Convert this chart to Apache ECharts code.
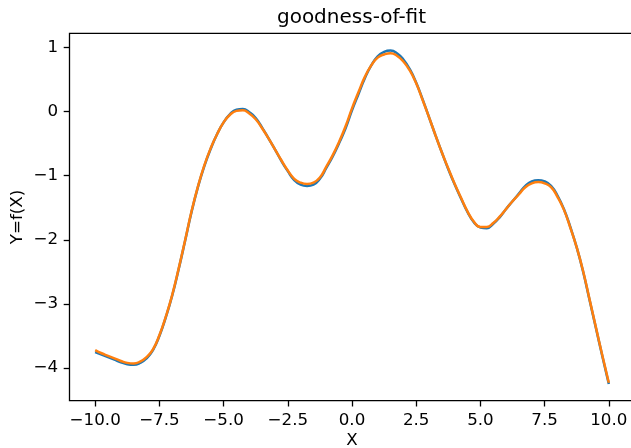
<!DOCTYPE html>
<html>
<head>
<meta charset="utf-8">
<script src="https://cdn.jsdelivr.net/npm/echarts@6/dist/echarts.min.js"></script>
<style>
  html, body { margin: 0; padding: 0; background: #fff; }
  #chart { width: 631px; height: 448px; }
</style>
</head>
<body>
<div id="chart"></div>
<script>
// Sample positions along X (step 0.25)
const xs = [-10, -9.75, -9.5, -9.25, -9, -8.75, -8.5, -8.25, -8, -7.75, -7.5, -7.25, -7, -6.75, -6.5, -6.25,
            -6, -5.75, -5.5, -5.25, -5, -4.75, -4.5, -4.25, -4, -3.75, -3.5, -3.25, -3, -2.75, -2.5, -2.25,
            -2, -1.75, -1.5, -1.25, -1, -0.75, -0.5, -0.25, 0, 0.25, 0.5, 0.75, 1, 1.25, 1.5, 1.75,
            2, 2.25, 2.5, 2.75, 3, 3.25, 3.5, 3.75, 4, 4.25, 4.5, 4.75, 5, 5.25, 5.5, 5.75,
            6, 6.25, 6.5, 6.75, 7, 7.25, 7.5, 7.75, 8, 8.25, 8.5, 8.75, 9, 9.25, 9.5, 9.75, 10];

// Observed function values f(X)
const trueY = [-3.75, -3.79, -3.83, -3.87, -3.91, -3.94, -3.95, -3.92, -3.85, -3.72, -3.50, -3.21, -2.87, -2.46, -2.02, -1.57,
               -1.18, -0.85, -0.58, -0.35, -0.17, -0.04, 0.03, 0.04, -0.01, -0.10, -0.25, -0.42, -0.59, -0.77, -0.93, -1.07,
               -1.14, -1.16, -1.14, -1.05, -0.88, -0.70, -0.49, -0.26, 0.02, 0.27, 0.52, 0.72, 0.86, 0.93, 0.95, 0.91,
               0.81, 0.66, 0.45, 0.19, -0.09, -0.37, -0.64, -0.90, -1.14, -1.36, -1.57, -1.73, -1.81, -1.82, -1.75, -1.65,
               -1.52, -1.40, -1.28, -1.16, -1.09, -1.07, -1.09, -1.16, -1.31, -1.52, -1.80, -2.12, -2.50, -2.94, -3.38, -3.82, -4.25];

// Fitted model values
const fitY = [-3.72, -3.77, -3.81, -3.85, -3.89, -3.92, -3.93, -3.90, -3.83, -3.71, -3.49, -3.20, -2.86, -2.45, -2.01, -1.56,
              -1.17, -0.84, -0.57, -0.35, -0.17, -0.05, 0.01, 0.02, -0.03, -0.12, -0.26, -0.42, -0.59, -0.76, -0.92, -1.05,
              -1.11, -1.13, -1.11, -1.03, -0.86, -0.68, -0.47, -0.23, 0.05, 0.30, 0.54, 0.72, 0.84, 0.89, 0.91, 0.87,
              0.78, 0.64, 0.44, 0.18, -0.09, -0.37, -0.64, -0.89, -1.13, -1.35, -1.56, -1.72, -1.80, -1.80, -1.74, -1.64,
              -1.52, -1.40, -1.29, -1.18, -1.12, -1.10, -1.12, -1.18, -1.33, -1.53, -1.81, -2.12, -2.49, -2.93, -3.37, -3.81, -4.23];

// Tick positions and their labels
const xTicks = [-10, -7.5, -5, -2.5, 0, 2.5, 5, 7.5, 10];
const xTickLabels = ['\u221210.0', '\u22127.5', '\u22125.0', '\u22122.5', '0.0', '2.5', '5.0', '7.5', '10.0'];
const yTicks = [-4, -3, -2, -1, 0, 1];
const yTickLabels = ['\u22124', '\u22123', '\u22122', '\u22121', '0', '1'];

const FONT = 'DejaVu Sans';
const pair = (ys) => xs.map((x, i) => [x, ys[i]]);

const chart = echarts.init(document.getElementById('chart'), null, { renderer: 'canvas' });

chart.setOption({
  animation: false,
  backgroundColor: '#ffffff',
  title: {
    text: 'goodness-of-fit',
    left: 351.5,
    top: 8,
    padding: 0,
    textAlign: 'center',
    textStyle: { fontFamily: FONT, fontSize: 20, fontWeight: 'normal', color: '#000' }
  },
  grid: {
    left: 69.5, right: -3.5, top: 33.3, bottom: 47.3,
    outerBoundsMode: 'none',
    containLabel: false,
    show: true,
    borderColor: '#000',
    borderWidth: 1.3,
    backgroundColor: 'transparent'
  },
  xAxis: {
    type: 'value',
    min: -11, max: 11,
    name: 'X',
    nameLocation: 'middle',
    nameGap: 31,
    nameMoveOverlap: false,
    nameTextStyle: { fontFamily: FONT, fontSize: 16.7, color: '#000' },
    axisLine: { show: false, onZero: false },
    splitLine: { show: false },
    axisTick: {
      show: true, inside: false, length: 5.8,
      customValues: xTicks,
      lineStyle: { color: '#000', width: 1.3 }
    },
    axisLabel: {
      customValues: xTicks,
      margin: 11.5,
      fontFamily: FONT, fontSize: 16.7, color: '#000',
      formatter: (v) => xTickLabels[xTicks.indexOf(v)]
    }
  },
  yAxis: {
    type: 'value',
    min: -4.51, max: 1.22,
    name: 'Y=f(X)',
    nameLocation: 'middle',
    nameRotate: 90,
    nameGap: 43,
    nameMoveOverlap: false,
    nameTextStyle: { fontFamily: FONT, fontSize: 16.7, color: '#000' },
    axisLine: { show: false, onZero: false },
    splitLine: { show: false },
    axisTick: {
      show: true, inside: false, length: 5.8,
      customValues: yTicks,
      lineStyle: { color: '#000', width: 1.3 }
    },
    axisLabel: {
      customValues: yTicks,
      margin: 11.5,
      fontFamily: FONT, fontSize: 16.7, color: '#000',
      formatter: (v) => yTickLabels[yTicks.indexOf(v)]
    }
  },
  series: [
    {
      name: 'f(X)',
      type: 'line',
      data: pair(trueY),
      smooth: 0.5,
      showSymbol: false,
      lineStyle: { color: '#1f77b4', width: 2.5 },
      itemStyle: { color: '#1f77b4' },
      z: 2
    },
    {
      name: 'fit',
      type: 'line',
      data: pair(fitY),
      smooth: 0.5,
      showSymbol: false,
      lineStyle: { color: '#ff7f0e', width: 2.5 },
      itemStyle: { color: '#ff7f0e' },
      z: 3
    }
  ]
});
</script>
</body>
</html>
